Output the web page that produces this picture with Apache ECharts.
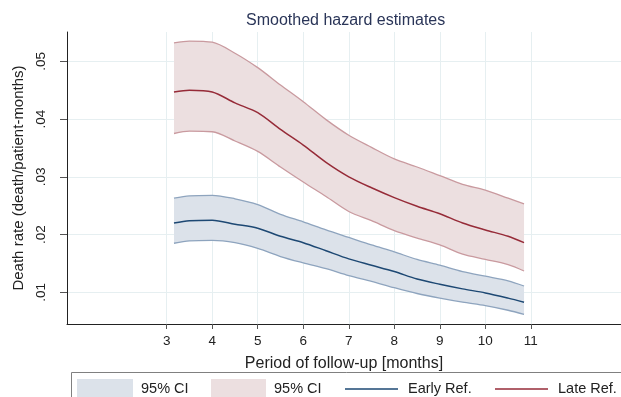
<!DOCTYPE html>
<html>
<head>
<meta charset="utf-8">
<script src="https://cdn.jsdelivr.net/npm/echarts@6/dist/echarts.min.js"></script>
<style>
  html, body { margin: 0; padding: 0; background: #fff; }
  #main { width: 621px; height: 397px; }
</style>
</head>
<body>
<div id="main"></div>
<script>
// follow-up months where the hazard was evaluated
var months = [3.16, 3.5, 4, 4.5, 5, 5.5, 6, 6.5, 7, 7.5, 8, 8.5, 9, 9.5, 10, 10.5, 10.85];

// early referral
var earlyRate  = [0.0220, 0.0224, 0.0225, 0.0218, 0.0211, 0.0197, 0.0186, 0.0172, 0.0158, 0.0147, 0.0136, 0.0123, 0.0114, 0.0106, 0.0099, 0.0090, 0.0083];
var earlyUpper = [0.0263, 0.0267, 0.0268, 0.0262, 0.0252, 0.0235, 0.0222, 0.0208, 0.0195, 0.0182, 0.0170, 0.0157, 0.0147, 0.0136, 0.0128, 0.0120, 0.0111];
var earlyLower = [0.0185, 0.0189, 0.0190, 0.0186, 0.0176, 0.0162, 0.0151, 0.0141, 0.0129, 0.0119, 0.0108, 0.0098, 0.0090, 0.0083, 0.0077, 0.0069, 0.0062];

// late referral
var lateRate  = [0.0447, 0.0450, 0.0447, 0.0428, 0.0411, 0.0382, 0.0355, 0.0325, 0.0300, 0.0281, 0.0264, 0.0249, 0.0236, 0.0220, 0.0208, 0.0197, 0.0186];
var lateUpper = [0.0532, 0.0535, 0.0533, 0.0514, 0.0489, 0.0459, 0.0430, 0.0399, 0.0372, 0.0351, 0.0331, 0.0317, 0.0302, 0.0287, 0.0277, 0.0263, 0.0253];
var lateLower = [0.0375, 0.0379, 0.0378, 0.0362, 0.0344, 0.0317, 0.0291, 0.0266, 0.0240, 0.0224, 0.0207, 0.0194, 0.0182, 0.0166, 0.0157, 0.0148, 0.0137];

var xTicks = [3, 4, 5, 6, 7, 8, 9, 10, 11];
var yTicks = [0.01, 0.02, 0.03, 0.04, 0.05];
var yTickLabels = ['.01', '.02', '.03', '.04', '.05'];

var FONT = '"Liberation Sans", Arial, sans-serif';

function pairs(ys) {
  return months.map(function (m, i) { return [m, ys[i]]; });
}
// band pieces are given as [y, x] so that the stack runs on y
function flipped(ys) {
  return months.map(function (m, i) { return [ys[i], m]; });
}
function widths(up, lo) {
  return months.map(function (m, i) { return [+(up[i] - lo[i]).toFixed(5), m]; });
}

var blueFill = '#dce2ea', blueEdge = '#8ea4be', blueLine = '#1d4873';
var redFill = '#ecdfe0', redEdge = '#c99a9f', redLine = '#962b38';

function band(name, stack, data, edge, fill) {
  var s = {
    name: name, type: 'line', stack: stack, data: data,
    encode: { x: 1, y: 0 },
    symbol: 'none', smooth: 0.3, color: edge,
    lineStyle: { color: edge, width: 1.3 }, silent: true, z: 1
  };
  if (fill) s.areaStyle = { color: fill, opacity: 1 };
  return s;
}

var option = {
  animation: false,
  backgroundColor: '#fff',
  title: {
    text: 'Smoothed hazard estimates',
    left: 246, top: 13, padding: 0,
    textStyle: { fontFamily: FONT, fontSize: 16, fontWeight: 'normal', color: '#2a3558' }
  },
  grid: { left: 67, right: 0, top: 32, bottom: 73, containLabel: false },
  xAxis: {
    type: 'value',
    min: 0.81, max: 12.98,
    name: 'Period of follow-up [months]',
    nameLocation: 'middle',
    nameGap: 32,
    nameTextStyle: { fontFamily: FONT, fontSize: 16, color: '#222' },
    axisLine: { show: true, onZero: false, lineStyle: { color: '#222', width: 1 } },
    axisTick: { show: true, customValues: xTicks, length: 5, lineStyle: { color: '#555' } },
    axisLabel: { customValues: xTicks, margin: 10, fontFamily: FONT, fontSize: 13.5, color: '#222' },
    splitLine: { show: true, lineStyle: { color: '#e6eff1', width: 1 } }
  },
  yAxis: {
    type: 'value',
    min: 0.00452, max: 0.05507,
    name: 'Death rate (death/patient-months)',
    nameLocation: 'middle',
    nameRotate: 90,
    nameGap: 35,
    nameTextStyle: { fontFamily: FONT, fontSize: 15, color: '#222' },
    axisLine: { show: true, onZero: false, lineStyle: { color: '#222', width: 1 } },
    axisTick: { show: true, customValues: yTicks, length: 7, lineStyle: { color: '#555' } },
    axisLabel: {
      customValues: yTicks, rotate: 90, margin: 19,
      fontFamily: FONT, fontSize: 13.5, color: '#222',
      formatter: function (v) {
        for (var i = 0; i < yTicks.length; i++) {
          if (Math.abs(yTicks[i] - v) < 1e-9) return yTickLabels[i];
        }
        return '';
      }
    },
    splitLine: { show: true, lineStyle: { color: '#e6eff1', width: 1 } }
  },
  graphic: [{
    type: 'rect',
    shape: { x: 71.5, y: 372.5, width: 600, height: 60 },
    style: { fill: 'none', stroke: '#808080', lineWidth: 1 },
    silent: true
  }],
  legend: [
    {
      data: [{ name: 'ciEarly', icon: 'rect', itemStyle: { color: blueFill, borderWidth: 0 } }],
      left: 77, top: 379, padding: 0, itemWidth: 56, itemHeight: 19,
      formatter: function () { return '95% CI'; },
      textStyle: { fontFamily: FONT, fontSize: 14.5, color: '#222', padding: [0, 0, 0, 3] }
    },
    {
      data: [{ name: 'ciLate', icon: 'rect', itemStyle: { color: redFill, borderWidth: 0 } }],
      left: 211, top: 379, padding: 0, itemWidth: 55, itemHeight: 19,
      formatter: function () { return '95% CI'; },
      textStyle: { fontFamily: FONT, fontSize: 14.5, color: '#222', padding: [0, 0, 0, 3] }
    },
    {
      data: [{ name: 'Early Ref.', icon: 'rect', itemStyle: { color: blueLine, borderWidth: 0 } }],
      left: 345, top: 381.5, padding: 0, itemWidth: 53, itemHeight: 1.6,
      textStyle: { fontFamily: FONT, fontSize: 14.5, color: '#222', padding: [0, 0, 0, 5] }
    },
    {
      data: [{ name: 'Late Ref.', icon: 'rect', itemStyle: { color: redLine, borderWidth: 0 } }],
      left: 495, top: 381.5, padding: 0, itemWidth: 53, itemHeight: 1.6,
      textStyle: { fontFamily: FONT, fontSize: 14.5, color: '#222', padding: [0, 0, 0, 5] }
    }
  ],
  series: [
    band('ciEarlyLow', 'early', flipped(earlyLower), blueEdge, null),
    band('ciEarly', 'early', widths(earlyUpper, earlyLower), blueEdge, blueFill),
    band('ciLateLow', 'late', flipped(lateLower), redEdge, null),
    band('ciLate', 'late', widths(lateUpper, lateLower), redEdge, redFill),
    {
      name: 'Early Ref.', type: 'line', data: pairs(earlyRate),
      symbol: 'none', smooth: 0.3, color: blueLine,
      lineStyle: { color: blueLine, width: 1.5 }, z: 3
    },
    {
      name: 'Late Ref.', type: 'line', data: pairs(lateRate),
      symbol: 'none', smooth: 0.3, color: redLine,
      lineStyle: { color: redLine, width: 1.5 }, z: 3
    }
  ]
};

var myChart = echarts.init(document.getElementById('main'));
myChart.setOption(option);
window.onresize = myChart.resize;
</script>
</body>
</html>
